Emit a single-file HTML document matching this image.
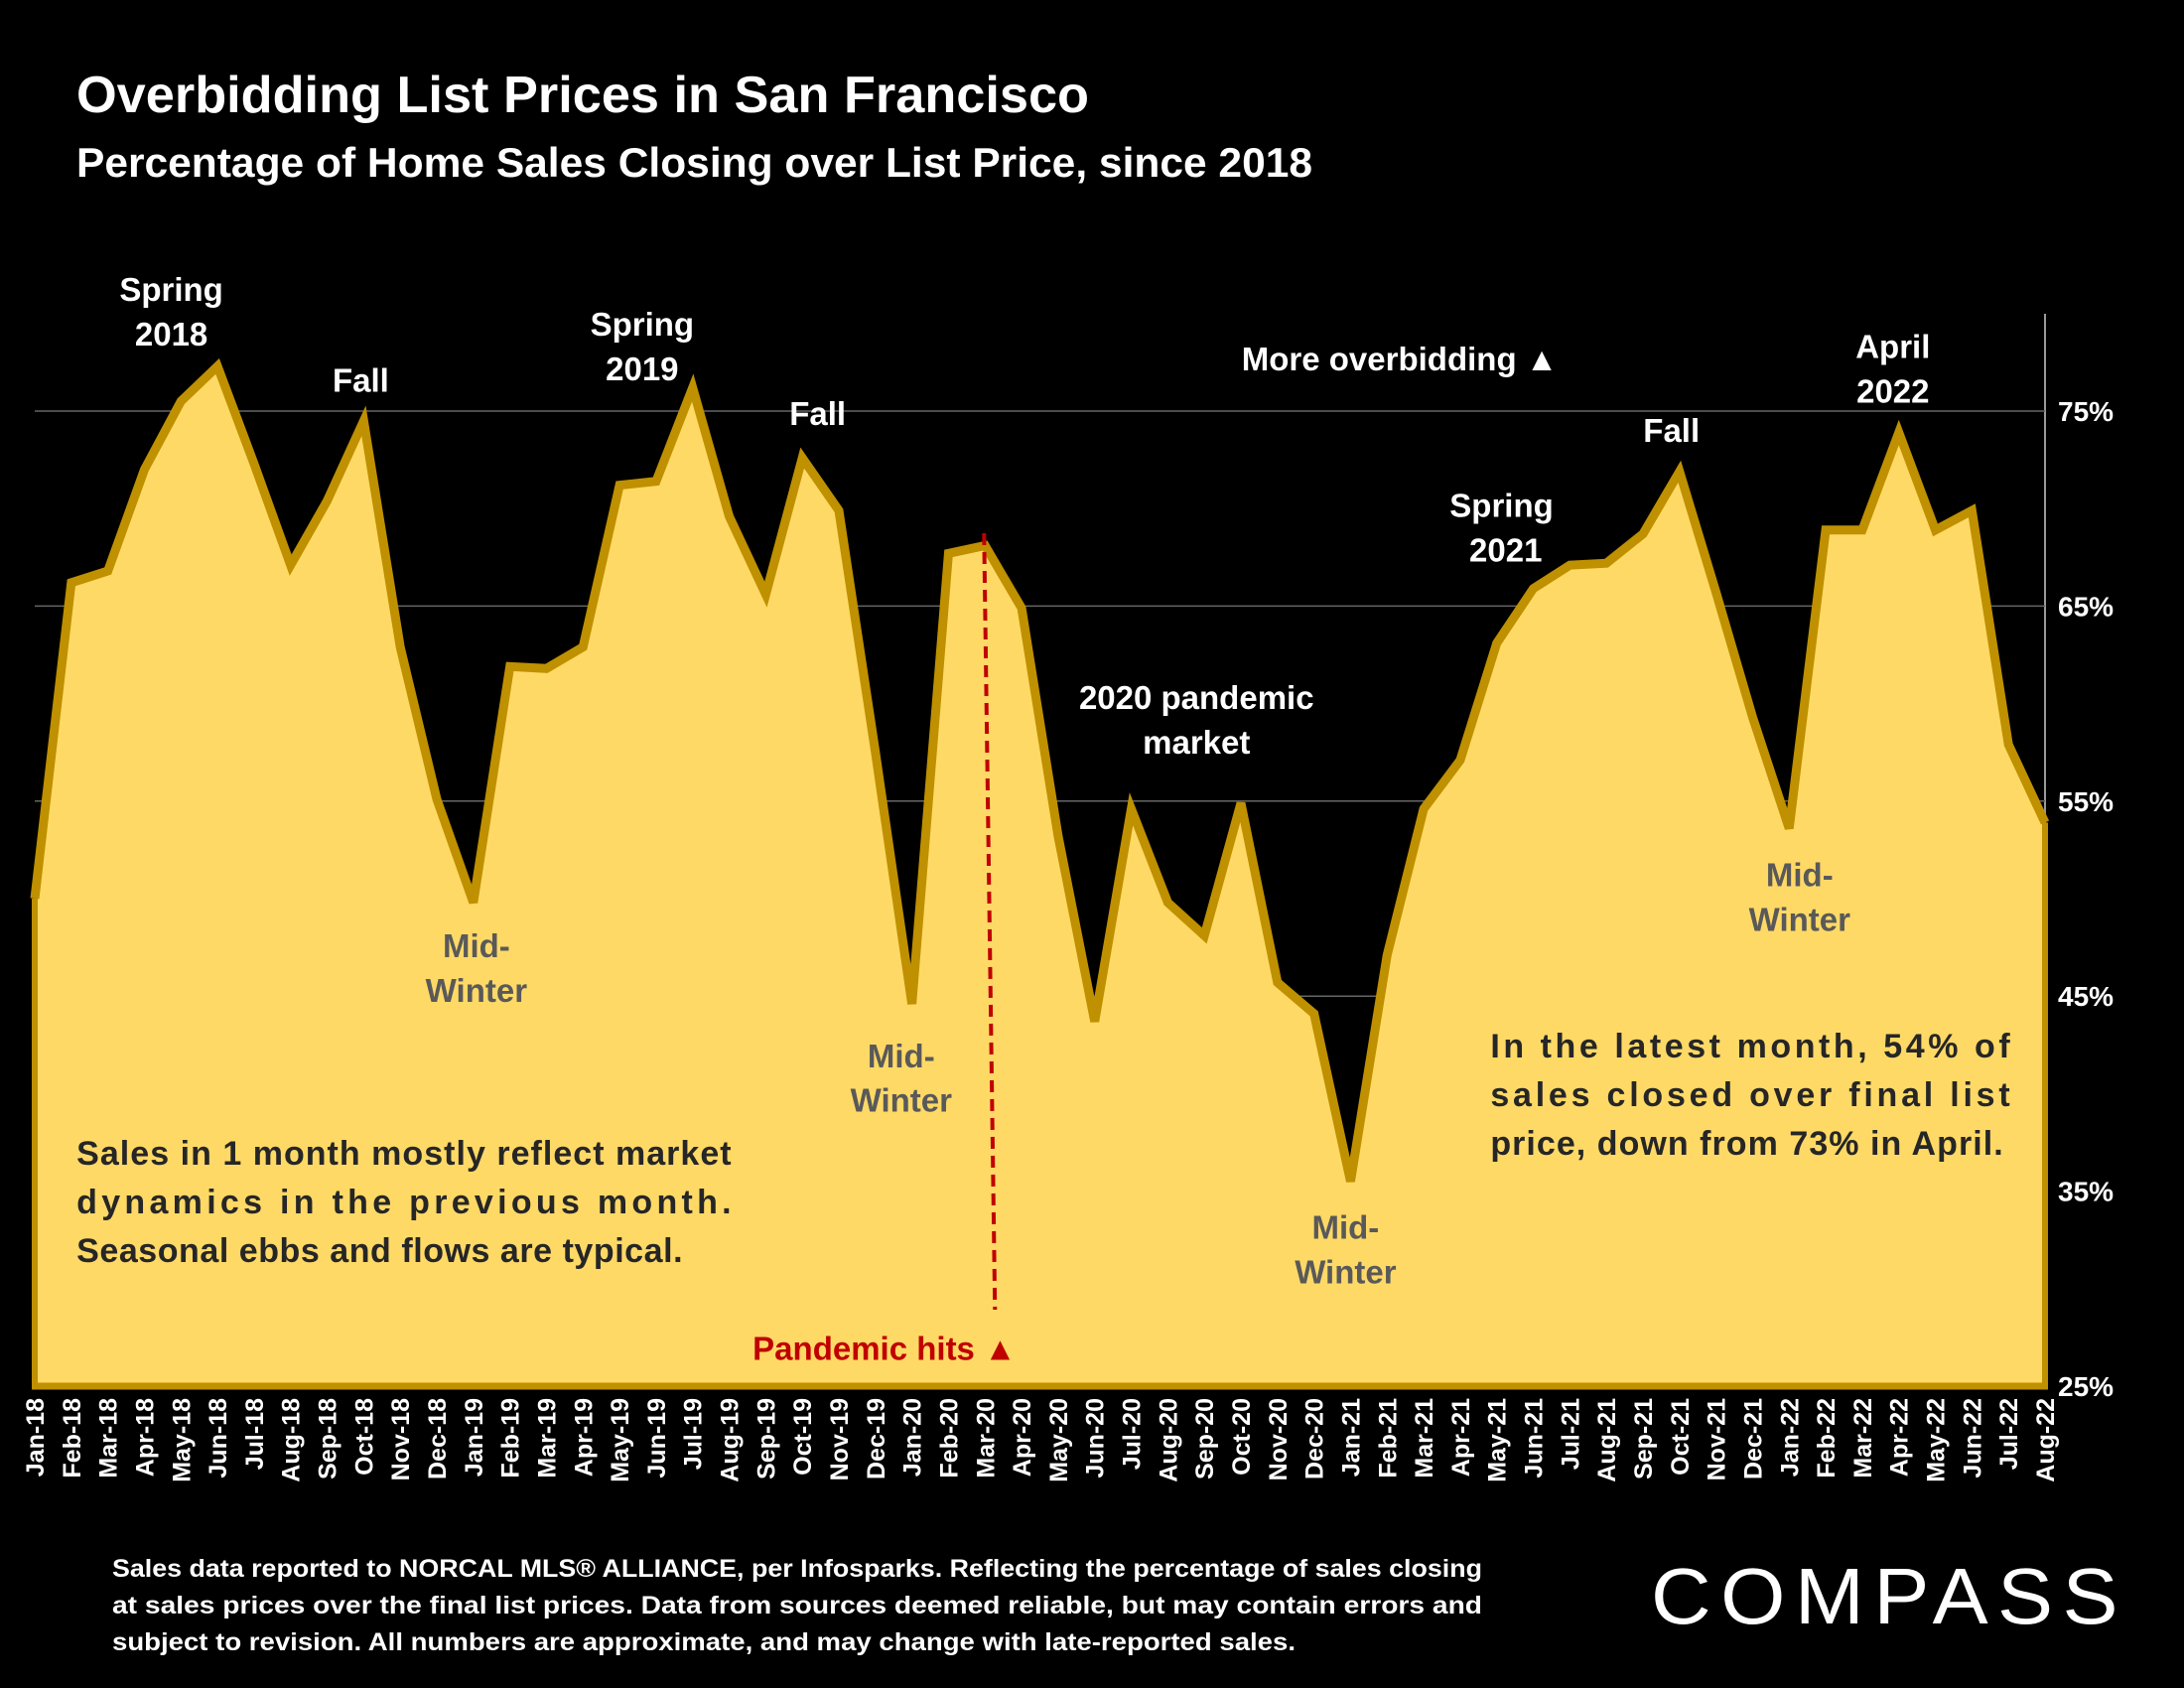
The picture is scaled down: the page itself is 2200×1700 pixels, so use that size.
<!DOCTYPE html>
<html><head><meta charset="utf-8"><style>
html,body{margin:0;padding:0;background:#000;}
svg{display:block;font-family:"Liberation Sans",sans-serif;}
</style></head><body>
<svg id="chart" width="2200" height="1700" viewBox="0 0 2200 1700" xmlns="http://www.w3.org/2000/svg">
<rect width="2200" height="1700" fill="#000"/>
<text x="77" y="113" fill="#fff" font-size="52" font-weight="bold" textLength="1020" lengthAdjust="spacingAndGlyphs">Overbidding List Prices in San Francisco</text>
<text x="77" y="178" fill="#fff" font-size="42" font-weight="bold" textLength="1245" lengthAdjust="spacingAndGlyphs">Percentage of Home Sales Closing over List Price, since 2018</text>
<g id="plot"></g>
<g id="annos"></g>
<g fill="#fff" font-size="25" font-weight="bold">
<text x="113" y="1588" textLength="1380" lengthAdjust="spacingAndGlyphs">Sales data reported to NORCAL MLS® ALLIANCE, per Infosparks. Reflecting the percentage of sales closing</text>
<text x="113" y="1625" textLength="1380" lengthAdjust="spacingAndGlyphs">at sales prices over the final list prices. Data from sources deemed reliable, but may contain errors and</text>
<text x="113" y="1662" textLength="1192" lengthAdjust="spacingAndGlyphs">subject to revision. All numbers are approximate, and may change with late-reported sales.</text>
</g>
<text x="1663" y="1635" fill="#fff" font-size="80" letter-spacing="9" textLength="480" lengthAdjust="spacingAndGlyphs">COMPASS</text>
</svg>
<script>
const categories=["Jan-18","Feb-18","Mar-18","Apr-18","May-18","Jun-18","Jul-18","Aug-18","Sep-18","Oct-18","Nov-18","Dec-18","Jan-19","Feb-19","Mar-19","Apr-19","May-19","Jun-19","Jul-19","Aug-19","Sep-19","Oct-19","Nov-19","Dec-19","Jan-20","Feb-20","Mar-20","Apr-20","May-20","Jun-20","Jul-20","Aug-20","Sep-20","Oct-20","Nov-20","Dec-20","Jan-21","Feb-21","Mar-21","Apr-21","May-21","Jun-21","Jul-21","Aug-21","Sep-21","Oct-21","Nov-21","Dec-21","Jan-22","Feb-22","Mar-22","Apr-22","May-22","Jun-22","Jul-22","Aug-22"];
const values=[50,66.2,66.8,72,75.5,77.3,72.3,67.1,70.4,74.5,62.9,55.1,49.8,61.9,61.8,62.9,71.2,71.4,76.2,69.6,65.6,72.6,69.9,57.5,44.6,67.7,68.1,64.9,53.2,43.7,54.6,49.8,48.1,54.9,45.7,44.1,35.5,47.1,54.6,57.1,63.1,65.9,67.1,67.2,68.7,71.9,65.7,59.3,53.6,68.9,68.9,73.9,68.9,69.9,57.9,53.9];
const yTicks=[25,35,45,55,65,75];
const yTickLabels=["25%","35%","45%","55%","65%","75%"];
const NS="http://www.w3.org/2000/svg";
const X0=35,X1=2060,Y25=1396,Y75=414;
function xs(i){return X0+(X1-X0)*i/(categories.length-1);}
function ys(v){return Y25+(v-25)*(Y75-Y25)/50;}
function mk(tag,attrs,parent){const e=document.createElementNS(NS,tag);for(const k in attrs)e.setAttribute(k,attrs[k]);parent.appendChild(e);return e;}
const plot=document.getElementById('plot');
const raTop=mk('line',{x1:X1,x2:X1,y1:316,y2:Y25,stroke:'#999','stroke-width':2},plot);


yTicks.forEach((t,i)=>{
  if(t>25){const g=mk('line',{x1:X0,x2:X1,y1:ys(t),y2:ys(t),stroke:'#666','stroke-width':1.5},plot);
  
  }
  const l=mk('text',{x:2073,y:ys(t)+10,fill:'#fff','font-size':28,'font-weight':'bold'},plot);
  l.textContent=yTickLabels[i];
  
  
});
let d='M'+xs(0)+','+ys(25);
values.forEach((v,i)=>{d+=' L'+xs(i)+','+ys(v);});
d+=' L'+xs(values.length-1)+','+ys(25)+' Z';
const area=mk('path',{d:d,fill:'#FFD966'},plot);


const line=mk('polyline',{points:values.map((v,i)=>xs(i)+','+ys(v)).join(' '),fill:'none',stroke:'#BF9000','stroke-width':9,'stroke-linejoin':'miter'},plot);


const bl=mk('line',{x1:X0,x2:X0,y1:ys(values[0]),y2:Y25,stroke:'#BF9000','stroke-width':6},plot);


const bb=mk('line',{x1:X0-3,x2:X1+3,y1:Y25,y2:Y25,stroke:'#BF9000','stroke-width':7},plot);


const ra=mk('line',{x1:X1,x2:X1,y1:ys(values[values.length-1]),y2:Y25,stroke:'#BF9000','stroke-width':6},plot);


categories.forEach((c,i)=>{
  const t=mk('text',{x:0,y:0,fill:'#fff','font-size':25,'font-weight':'bold','text-anchor':'end',transform:'translate('+(xs(i)+9)+',1408) rotate(-90)'},plot);
  t.textContent=c;
  
  
});
const pl=mk('line',{x1:xs(26)-1,y1:537,x2:xs(26)+10,y2:1319,stroke:'#C00000','stroke-width':4,'stroke-dasharray':'12,7'},plot);


const S=1.4031;
const annos=document.getElementById('annos');
const A=[
["Spring",123,216,'#fff'],["2018",123,248,'#fff'],["Fall",259,281,'#fff'],
["Spring",461,241,'#fff'],["2019",461,273,'#fff'],["Fall",587,305,'#fff'],
["Mid-",342,687,'#595959'],["Winter",342,719,'#595959'],
["Mid-",647,766,'#595959'],["Winter",647,798,'#595959'],
["2020 pandemic",859,509,'#fff'],["market",859,541,'#fff'],
["Mid-",966,889,'#595959'],["Winter",966,921,'#595959'],
["More overbidding ▲",1005,266,'#fff'],
["Spring",1078,371,'#fff'],["2021",1081,403,'#fff'],["Fall",1200,317,'#fff'],
["April",1359,257,'#fff'],["2022",1359,289,'#fff'],
["Mid-",1292,636,'#595959'],["Winter",1292,668,'#595959'],
["Pandemic hits ▲",635,976,'#C00000']];
A.forEach(a=>{
  const t=mk('text',{x:a[1]*S,y:a[2]*S,fill:a[3],'font-size':33,'font-weight':'bold','text-anchor':'middle'},annos);
  t.textContent=a[0];
  
  
});
const L=[["Sales in 1 month mostly reflect market",55,836,470],["dynamics in the previous month.",55,871,470],["Seasonal ebbs and flows are typical.",55,906,435],
["In the latest month, 54% of",1070,759,373],["sales closed over final list",1070,794,373],["price, down from 73% in April.",1070,829,368]];
L.forEach(l=>{
  const at={x:l[1]*S,y:l[2]*S,fill:'#262626','font-size':34,'font-weight':'bold'};
  if(l[3]){at.textLength=l[3]*S;at.lengthAdjust='spacing';}
  const t=mk('text',at,annos);
  t.textContent=l[0];
  
  
});
</script>
</body></html>
